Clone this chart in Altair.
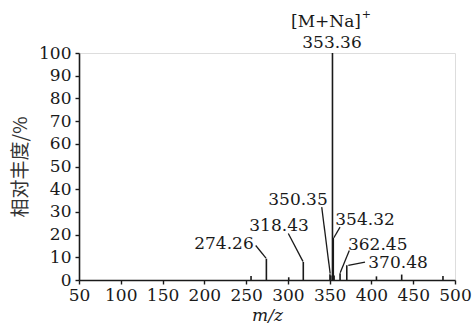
import altair as alt
import pandas as pd

# Peaks (m/z, relative abundance %)
peak_mz = [255.9, 274.26, 301.0, 318.43, 350.35, 351.4, 353.36, 354.32, 355.3, 362.45, 370.48, 406.0, 436.2, 485.6]
peak_int = [1.8, 9.4, 1.2, 8.0, 2.5, 2.0, 100.0, 18.6, 2.0, 3.0, 6.5, 1.6, 2.4, 1.8]

# Peak labels (text, anchor m/z, anchor abundance)
label_text = ["274.26", "318.43", "350.35", "354.32", "362.45", "370.48", "353.36", "[M+Na]"]
label_mz = [223.5, 289.4, 312.1, 392.3, 407.5, 431.8, 352.8, 345.6]
label_int = [15.7, 23.6, 35.1, 26.3, 15.2, 7.3, 104.4, 113.7]

# Leader lines (start near label -> end near peak)
lead_x1 = [261.5, 300.5, 340.5, 362.4, 373.5, 372.3]
lead_y1 = [15.2, 20.5, 32.1, 23.3, 13.0, 6.4]
lead_x2 = [273.8, 318.0, 350.6, 355.0, 362.6, 392.3]
lead_y2 = [9.6, 8.2, 2.8, 18.6, 3.2, 7.9]

x_ticks = [50, 100, 150, 200, 250, 300, 350, 400, 450, 500]
y_ticks = [0, 10, 20, 30, 40, 50, 60, 70, 80, 90, 100]

W, H = 376, 227
FONT = "DejaVu Serif"
INK = "#1a1a1a"
X_MIN, X_MAX, Y_MIN, Y_MAX = 50, 500, 0, 100

peaks = pd.DataFrame({"mz": peak_mz, "ab": peak_int, "zero": [0] * len(peak_mz)})
labels = pd.DataFrame({"t": label_text, "mz": label_mz, "ab": label_int})
leads = pd.DataFrame({"x1": lead_x1, "y1": lead_y1, "x2": lead_x2, "y2": lead_y2})

xs = alt.Scale(domain=[X_MIN, X_MAX], nice=False, zero=False)
ys = alt.Scale(domain=[Y_MIN, Y_MAX], nice=False)

xaxis = alt.Axis(values=x_ticks, title="m/z", titleFontStyle="italic",
                 titleFont=FONT, titleFontSize=17, titlePadding=4, labelPadding=3,
                 ticks=True, tickSize=4, tickColor=INK, tickWidth=1.4,
                 grid=False, labelFont=FONT, labelFontSize=17,
                 labelColor=INK, domainColor=INK, domainWidth=1.6,
                 titleFontWeight="normal", titleColor=INK,
                 labelFlush=False, labelOverlap=False)
yaxis = alt.Axis(values=y_ticks, title="相对丰度/%",
                 titleFont="Noto Sans CJK SC", titleFontSize=19,
                 titleColor="#333", titlePadding=8, labelPadding=4,
                 ticks=True, tickSize=4, tickColor=INK, tickWidth=1.4,
                 grid=False, labelFont=FONT, labelFontSize=17,
                 labelColor=INK, domainColor=INK, domainWidth=1.6,
                 titleFontWeight="normal",
                 labelFlush=False, labelOverlap=False)

Xn = lambda f: alt.X(f, type="quantitative", scale=xs, axis=None)
Yn = lambda f: alt.Y(f, type="quantitative", scale=ys, axis=None)

base_axes = alt.Chart(peaks).mark_rule(opacity=0).encode(
    x=alt.X("mz", type="quantitative", scale=xs, axis=xaxis),
    y=alt.Y("ab", type="quantitative", scale=ys, axis=yaxis),
)

bars = alt.Chart(peaks).mark_rule(color=INK, strokeWidth=1.6).encode(
    x=Xn("mz"), y=Yn("zero"), y2="ab:Q",
)

leader = alt.Chart(leads).mark_rule(color=INK, strokeWidth=1.3).encode(
    x=Xn("x1"), y=Yn("y1"), x2="x2:Q", y2="y2:Q",
)

text = alt.Chart(labels).mark_text(font=FONT, fontSize=17, color=INK,
                                   align="center", baseline="middle").encode(
    x=Xn("mz"), y=Yn("ab"), text="t:N",
)

sup = alt.Chart(pd.DataFrame({"t": ["+"], "mz": [394.0], "ab": [116.8]})).mark_text(
    font=FONT, fontSize=11, color=INK, align="center", baseline="middle").encode(
    x=Xn("mz"), y=Yn("ab"), text="t:N",
)

chart = alt.layer(base_axes, bars, leader, text, sup).resolve_axis(
    x="independent", y="independent"
).properties(
    width=W, height=H,
    autosize=alt.AutoSizeParams(type="none"),
    padding={"left": 79, "top": 53, "right": 20, "bottom": 44},
).configure_view(stroke=None).configure(background="white")

chart.save("out.html", embed_options={"renderer": "svg", "actions": False})
